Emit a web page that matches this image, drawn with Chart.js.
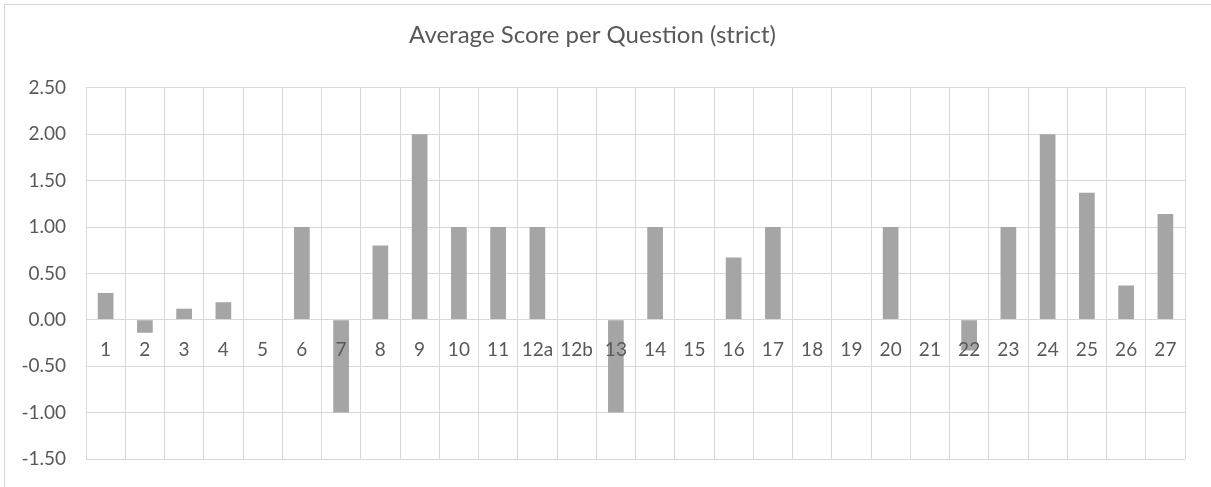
<!DOCTYPE html>
<html>
<head>
<meta charset="utf-8">
<script src="https://cdn.jsdelivr.net/npm/chart.js@4"></script>
<style>
  html, body { margin: 0; padding: 0; background: #fff; }
  #wrap { position: relative; width: 1211px; height: 487px; overflow: hidden; }
  #frame { position: absolute; left: 4px; top: 4px; width: 1300px; height: 600px;
           border-left: 1px solid #d9d9d9; border-top: 1px solid #d9d9d9; }
  #chart { position: absolute; left: 0; top: 0; }
</style>
</head>
<body>
<div id="wrap">
  <div id="frame"></div>
  <canvas id="chart" width="1211" height="487"></canvas>
</div>
<script>
/* ===== DATA ===== */
const questions = ['1', '2', '3', '4', '5', '6', '7', '8', '9', '10', '11', '12a', '12b', '13',
  '14', '15', '16', '17', '18', '19', '20', '21', '22', '23', '24', '25', '26', '27'];
const avgScores = [0.29, -0.14, 0.12, 0.19, 0, 1.00, -1.00, 0.80, 2.00, 1.00, 1.00, 1.00, 0, -1.00,
  1.00, 0, 0.67, 1.00, 0, 0, 1.00, 0, -0.33, 1.00, 2.00, 1.37, 0.37, 1.14];
const yTicks = [-1.5, -1.0, -0.5, 0, 0.5, 1.0, 1.5, 2.0, 2.5];

const textColor = '#595959';
const gridColor = '#d9d9d9';
const baseFont = { family: 'Lato', size: 19 };

new Chart(document.getElementById('chart'), {
  type: 'bar',
  data: {
    labels: questions,
    datasets: [{
      label: 'Average Score',
      data: avgScores,
      backgroundColor: '#a5a5a5',
      borderWidth: 0,
      barPercentage: 0.4,
      categoryPercentage: 1.0
    }]
  },
  options: {
    responsive: false,
    animation: false,
    devicePixelRatio: 1,
    layout: { padding: { left: 0, right: 26, top: 0, bottom: 28 } },
    plugins: {
      legend: { display: false },
      tooltip: { enabled: false },
      title: {
        display: true,
        text: 'Average Score per Question (strict)',
        color: textColor,
        font: { family: 'Lato', size: 24, weight: 'normal', lineHeight: 1.2 },
        padding: { top: 21, bottom: 38 }
      }
    },
    scales: {
      x: {
        position: { y: 0 },
        afterFit: (scale) => { scale.height = 0; },
        grid: { color: gridColor, offset: true, drawTicks: false },
        border: { color: gridColor, z: 1 },
        ticks: { font: baseFont, color: textColor, padding: 19, maxRotation: 0, autoSkip: false, z: 1 }
      },
      y: {
        min: yTicks[0],
        max: yTicks[yTicks.length - 1],
        afterFit: (scale) => { scale.width = 86; scale.paddingTop = 0; scale.paddingBottom = 0; },
        afterBuildTicks: (scale) => { scale.ticks = yTicks.map(v => ({ value: v })); },
        grid: { color: gridColor, drawTicks: false },
        border: { color: gridColor },
        ticks: {
          font: baseFont, color: textColor, padding: 20,
          callback: (v) => Number(v).toFixed(2)
        }
      }
    }
  }
});
</script>
</body>
</html>
